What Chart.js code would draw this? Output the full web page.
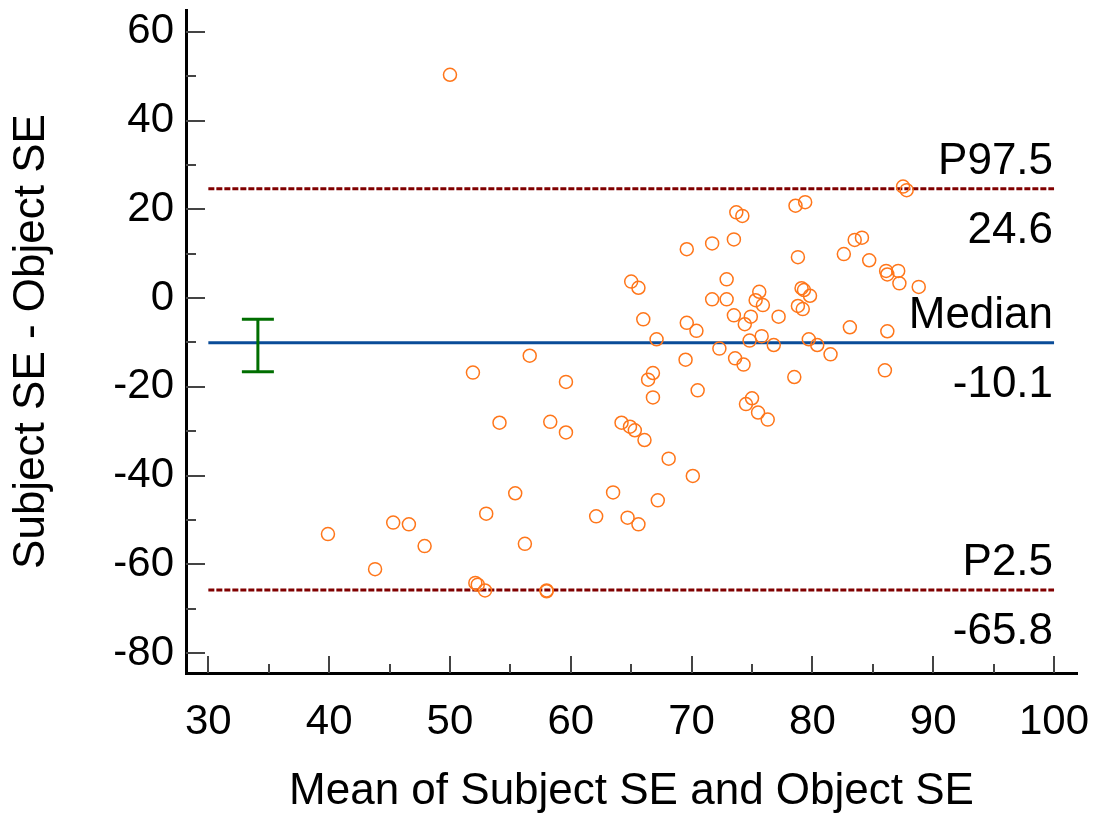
<!DOCTYPE html>
<html>
<head>
<meta charset="utf-8">
<script src="https://cdn.jsdelivr.net/npm/chart.js@4.4.1/dist/chart.umd.min.js"></script>
<style>
  body { margin: 0; background: #fff; }
  #wrap { width: 1094px; height: 814px; }
</style>
</head>
<body>
<div id="wrap"><canvas id="myChart"></canvas></div>
<script>
// mean of the two measurements (x) and their difference (y)
let meanVals = [
    50.0, 87.5, 87.8, 78.6, 79.4, 73.7, 74.2, 69.6, 71.7, 73.5,
    78.8, 82.6, 83.5, 84.1, 84.7, 86.1, 86.2, 87.1, 87.2, 88.8,
    65.0, 65.6, 72.9, 66.0, 71.7, 72.9, 75.6, 75.3, 75.9, 73.5,
    74.4, 74.9, 77.2, 79.1, 79.3, 79.8, 78.8, 79.2, 69.6, 70.4,
    67.1, 72.3, 74.8, 75.8, 76.8, 79.7, 80.4, 81.5, 83.1, 69.5,
    73.6, 74.3, 78.5, 66.8, 66.4, 66.8, 70.5, 74.5, 75.0, 75.5,
    76.3, 64.2, 64.9, 65.3, 66.1, 68.1, 70.1, 63.5, 67.2, 62.1,
    64.7, 65.6, 56.6, 51.9, 59.6, 54.1, 58.3, 59.6, 55.4, 53.0,
    39.9, 45.3, 46.6, 47.9, 56.2, 43.8, 52.1, 52.3, 52.9, 58.0,
    58.0, 86.0, 86.2
];
let diffVals = [
    50.3, 25.1, 24.3, 20.8, 21.6, 19.3, 18.5, 11.0, 12.3, 13.2,
    9.2, 9.9, 13.1, 13.6, 8.5, 6.1, 5.3, 6.1, 3.3, 2.5,
    3.7, 2.3, 4.2, -4.8, -0.3, -0.3, 1.4, -0.5, -1.6, -3.9,
    -5.9, -4.2, -4.2, 2.2, 1.8, 0.5, -1.8, -2.5, -5.6, -7.4,
    -9.3, -11.4, -9.6, -8.6, -10.6, -9.3, -10.6, -12.7, -6.6, -13.9,
    -13.6, -15.0, -17.8, -16.9, -18.4, -22.4, -20.8, -23.9, -22.6, -25.8,
    -27.4, -28.1, -29.0, -29.8, -32.0, -36.2, -40.1, -43.8, -45.6, -49.2,
    -49.5, -51.0, -13.0, -16.8, -18.9, -28.1, -27.9, -30.3, -44.0, -48.6,
    -53.2, -50.6, -51.0, -55.9, -55.4, -61.1, -64.2, -64.6, -65.9, -65.9,
    -66.1, -16.3, -7.5
];

let refNames = ['P97.5', 'Median', 'P2.5'];
let refValues = [24.6, -10.1, -65.8];

// confidence interval of the median, shown on the left
let ciX = 34.1;
let ciMedian = [-4.8, -16.6];

let xTicks = [30, 35, 40, 45, 50, 55, 60, 65, 70, 75, 80, 85, 90, 95, 100];
let yTicks = [-80, -70, -60, -50, -40, -30, -20, -10, 0, 10, 20, 30, 40, 50, 60];

const FONT = '"Liberation Sans", Arial, sans-serif';
const ORANGE = 'rgb(255, 118, 26)';
const DARKRED = 'rgb(128, 0, 0)';
const BLUE = 'rgb(10, 76, 152)';
const GREEN = 'rgb(0, 110, 0)';

let points = meanVals.map((m, i) => ({ x: m, y: diffVals[i] }));

let refSets = refValues.map((v, i) => ({
    label: refNames[i],
    data: [{ x: xTicks[0], y: v }, { x: xTicks[xTicks.length - 1], y: v }],
    showLine: true,
    pointRadius: 0,
    borderColor: i === 1 ? BLUE : DARKRED,
    borderWidth: 3,
    borderDash: i === 1 ? [] : [6, 2],
    order: 3
}));

// inward tick marks + labels next to the reference lines
const extras = {
    id: 'extras',
    beforeDatasetsDraw(chart) {
        const ctx = chart.ctx;
        const xs = chart.scales.x, ys = chart.scales.y;
        const area = chart.chartArea;
        ctx.save();
        ctx.strokeStyle = '#444';
        ctx.lineWidth = 2;
        xs.ticks.forEach(t => {
            const px = Math.round(xs.getPixelForValue(t.value));
            const len = t.value % 10 === 0 ? 17 : 9;
            ctx.beginPath();
            ctx.moveTo(px, area.bottom);
            ctx.lineTo(px, area.bottom - len);
            ctx.stroke();
        });
        ys.ticks.forEach(t => {
            const py = Math.round(ys.getPixelForValue(t.value));
            const len = t.value % 20 === 0 ? 19 : 10;
            ctx.beginPath();
            ctx.moveTo(area.left, py);
            ctx.lineTo(area.left + len, py);
            ctx.stroke();
        });
        ctx.restore();
    },
    afterDatasetsDraw(chart) {
        const ctx = chart.ctx;
        const xs = chart.scales.x, ys = chart.scales.y;
        const right = xs.getPixelForValue(xTicks[xTicks.length - 1]) - 1;
        ctx.save();
        ctx.font = '44px ' + FONT;
        ctx.fillStyle = '#000';
        ctx.textAlign = 'right';
        ctx.textBaseline = 'alphabetic';
        refValues.forEach((v, i) => {
            const py = ys.getPixelForValue(v);
            ctx.fillText(refNames[i], right, py - 15);
            ctx.fillText(v.toFixed(1), right, py + 54);
        });
        ctx.restore();
    }
};

let config = {
    type: 'scatter',
    data: {
        datasets: [
            {
                label: 'Differences',
                data: points,
                pointStyle: 'circle',
                pointRadius: 6.5,
                pointBackgroundColor: 'rgba(255,255,255,0)',
                pointBorderColor: ORANGE,
                pointBorderWidth: 1.5,
                order: 1
            },
            ...refSets,
            {
                label: 'CI median',
                data: ciMedian.map(v => ({ x: ciX, y: v })),
                showLine: true,
                borderColor: GREEN,
                borderWidth: 3,
                pointStyle: 'line',
                pointRadius: 16,
                pointBorderColor: GREEN,
                pointBorderWidth: 3,
                order: 2
            }
        ]
    },
    options: {
        responsive: true,
        maintainAspectRatio: false,
        animation: false,
        layout: { autoPadding: false, padding: { top: 10, right: 17, left: 0, bottom: 0 } },
        plugins: {
            legend: { display: false },
            tooltip: { enabled: false }
        },
        scales: {
            x: {
                type: 'linear',
                min: 28.15,
                max: 101.9,
                afterBuildTicks: (s) => { s.ticks = xTicks.map(v => ({ value: v })); },
                afterFit: (s) => { s.height = 141; s.paddingLeft = 0; s.paddingRight = 0; },
                grid: { drawOnChartArea: false, drawTicks: false },
                border: { display: true, color: '#000', width: 3 },
                ticks: {
                    autoSkip: false,
                    maxRotation: 0,
                    padding: 24,
                    color: '#000',
                    font: { family: FONT, size: 42 },
                    callback: (v) => v % 10 === 0 ? v : ''
                },
                title: {
                    display: true,
                    text: 'Mean of Subject SE and Object SE',
                    color: '#000',
                    font: { family: FONT, size: 44, lineHeight: 1.0 },
                    padding: { top: 0, bottom: 0 }
                }
            },
            y: {
                type: 'linear',
                min: -84.5,
                max: 64.9,
                afterBuildTicks: (s) => { s.ticks = yTicks.map(v => ({ value: v })); },
                afterFit: (s) => { s.width = 186; s.paddingTop = 0; s.paddingBottom = 0; },
                grid: { drawOnChartArea: false, drawTicks: false },
                border: { display: true, color: '#000', width: 3 },
                ticks: {
                    autoSkip: false,
                    padding: 12,
                    color: '#000',
                    font: { family: FONT, size: 42 },
                    callback: (v) => v % 20 === 0 ? v : ''
                },
                title: {
                    display: true,
                    text: 'Subject SE - Object SE',
                    color: '#000',
                    font: { family: FONT, size: 44, lineHeight: 1.0 },
                    padding: { top: 10, bottom: 0 }
                }
            }
        }
    },
    plugins: [extras]
};

let myChart = new Chart(document.getElementById('myChart'), config);
</script>
</body>
</html>
